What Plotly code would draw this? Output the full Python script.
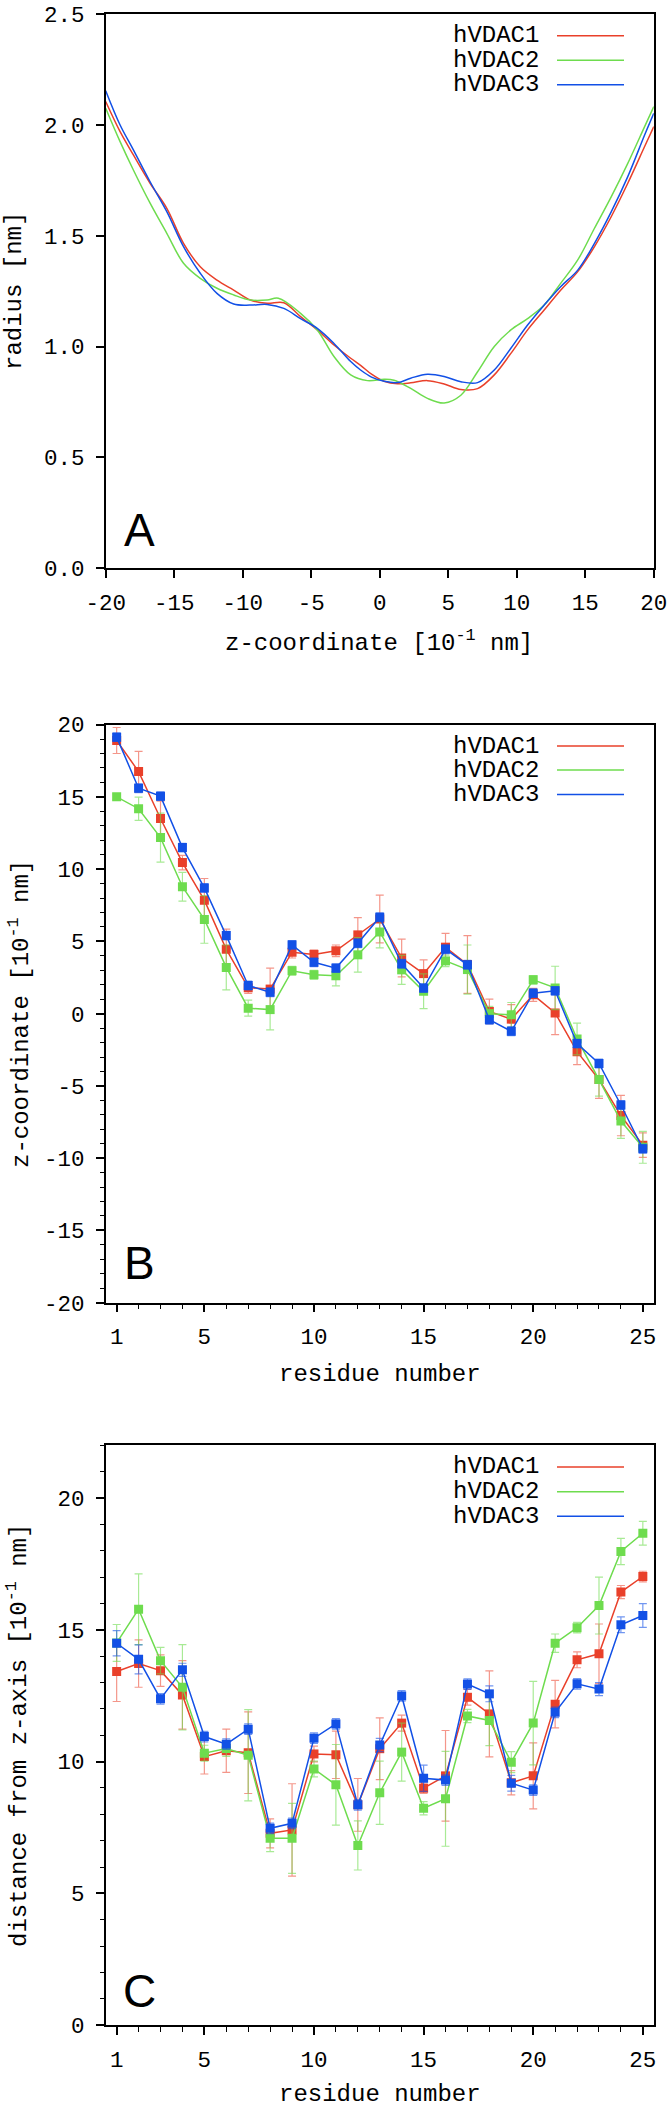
import plotly.graph_objects as go

W, H = 671, 2109

# ---------------- Panel A: pore radius profiles ----------------
zA_1 = [-20, -18.95, -17.98, -16.76, -15.54, -14.32, -13.1, -11.88, -10.66, -9.44, -8.22, -7.0,
        -5.78, -4.56, -3.34, -2.12, -1.4, -0.6, 0.32, 1.3, 2.26, 3.48, 4.7, 5.92, 7.14, 8.36,
        9.57, 10.79, 12.0, 13.2, 14.45, 15.67, 16.9, 18.1, 19.33, 20]
rA_1 = [2.106, 1.970, 1.865, 1.737, 1.624, 1.466, 1.360, 1.300, 1.255, 1.210, 1.195, 1.198,
        1.135, 1.075, 1.007, 0.947, 0.915, 0.875, 0.843, 0.832, 0.836, 0.846, 0.831, 0.806, 0.810, 0.872,
        0.969, 1.075, 1.165, 1.254, 1.338, 1.451, 1.587, 1.737, 1.903, 1.993]

zA_2 = [-20, -18.95, -17.98, -16.76, -15.54, -14.32, -13.1, -11.88, -10.66, -9.44, -8.22, -7.4,
        -5.78, -4.56, -3.34, -2.12, -0.9, 0.32, 1.04, 2.26, 3.48, 4.7, 5.92, 7.14, 8.36,
        9.57, 10.79, 12.0, 13.2, 14.45, 15.67, 16.9, 18.1, 19.33, 20]
rA_2 = [2.076, 1.925, 1.797, 1.647, 1.511, 1.376, 1.308, 1.263, 1.233, 1.210, 1.210, 1.218,
        1.150, 1.075, 0.955, 0.872, 0.846, 0.852, 0.848, 0.811, 0.766, 0.745, 0.780, 0.886, 1.000,
        1.075, 1.126, 1.187, 1.285, 1.391, 1.534, 1.677, 1.827, 1.993, 2.083]

zA_3 = [-20, -18.95, -17.98, -16.76, -15.54, -14.32, -13.1, -11.88, -10.66, -9.44, -8.22, -7.0,
        -5.78, -4.56, -3.34, -2.12, -1.4, -0.6, 0.32, 1.3, 2.26, 3.48, 4.7, 5.92, 7.14, 8.36,
        9.57, 10.79, 12.0, 13.2, 14.45, 15.67, 16.9, 18.1, 19.33, 20]
rA_3 = [2.155, 2.000, 1.888, 1.744, 1.609, 1.451, 1.331, 1.240, 1.192, 1.187, 1.190, 1.172,
        1.126, 1.082, 1.014, 0.932, 0.894, 0.862, 0.843, 0.837, 0.857, 0.875, 0.865, 0.841, 0.837, 0.894,
        0.992, 1.097, 1.187, 1.270, 1.345, 1.466, 1.609, 1.767, 1.955, 2.053]

# ---------------- Panels B, C: per-residue values ----------------
residues = list(range(1, 26))

B_1 = [18.9, 16.75, 13.5, 10.45, 7.85, 4.45, 1.8, 1.7, 4.25, 4.1, 4.35, 5.45, 6.55, 3.85, 2.77,
       4.6, 3.4, 0.15, -0.38, 1.3, 0.05, -2.63, -4.56, -7.05, -9.1]
B_1_err = [0.9, 1.4, 1.2, 0.5, 1.5, 1.4, 0.4, 1.45, 0.4, 0.3, 0.4, 1.2, 1.65, 1.3, 0.95,
           0.95, 2.0, 0.85, 1.0, 0.45, 1.5, 0.9, 1.3, 1.4, 0.85]
B_2 = [15.0, 14.18, 12.18, 8.78, 6.52, 3.2, 0.38, 0.28, 2.97, 2.69, 2.62, 4.07, 5.65, 3.03, 1.55,
       3.65, 3.05, 0.0, -0.08, 2.34, 1.78, -1.75, -4.56, -7.43, -9.25]
B_2_err = [0.2, 0.8, 1.7, 1.0, 1.65, 1.55, 0.55, 1.4, 0.3, 0.3, 0.7, 1.2, 1.1, 1.0, 1.2,
           0.4, 1.7, 0.5, 0.85, 0.3, 1.5, 1.1, 1.15, 1.2, 1.1]
B_3 = [19.13, 15.6, 15.05, 11.49, 8.7, 5.4, 1.95, 1.48, 4.76, 3.55, 3.15, 4.87, 6.67, 3.45, 1.77,
       4.46, 3.38, -0.42, -1.22, 1.42, 1.58, -2.07, -3.45, -6.32, -9.35]
B_3_err = [0.3, 0.3, 0.3, 0.3, 0.3, 0.3, 0.3, 0.3, 0.3, 0.3, 0.3, 0.3, 0.3, 0.3, 0.3,
           0.3, 0.3, 0.3, 0.3, 0.3, 0.3, 0.3, 0.3, 0.3, 0.3]

C_1 = [13.42, 13.72, 13.45, 12.53, 10.19, 10.41, 10.34, 7.28, 7.41, 10.29, 10.26, 8.36, 10.49,
       11.46, 8.99, 9.46, 12.44, 11.81, 9.2, 9.46, 12.18, 13.86, 14.09, 16.43, 17.02]
C_1_err = [1.14, 0.9, 0.6, 1.3, 0.66, 0.82, 1.55, 0.55, 1.75, 0.3, 0.9, 1.0, 1.17,
           0.3, 0.2, 1.72, 0.3, 1.63, 0.46, 1.25, 0.9, 0.3, 1.13, 0.25, 0.2]
C_2 = [14.5, 15.78, 13.83, 12.82, 10.32, 10.5, 10.24, 7.09, 7.09, 9.72, 9.12, 6.82, 8.82,
       10.36, 8.23, 8.59, 11.73, 11.56, 9.98, 11.46, 14.49, 15.08, 15.92, 17.97, 18.66]
C_2_err = [0.7, 1.34, 0.5, 1.62, 0.3, 0.3, 1.73, 0.5, 1.33, 0.3, 1.53, 0.93, 1.2,
           1.1, 0.25, 1.8, 0.25, 0.95, 0.4, 1.58, 0.35, 0.2, 1.08, 0.5, 0.45]
C_3 = [14.49, 13.88, 12.38, 13.48, 10.95, 10.66, 11.23, 7.47, 7.66, 10.89, 11.43, 8.36, 10.63,
       12.49, 9.37, 9.3, 12.94, 12.57, 9.18, 8.92, 11.87, 12.95, 12.75, 15.19, 15.54]
C_3_err = [0.48, 0.55, 0.2, 0.25, 0.2, 0.2, 0.2, 0.2, 0.2, 0.2, 0.2, 0.2, 0.25,
           0.2, 0.5, 0.2, 0.2, 0.3, 0.3, 0.2, 0.2, 0.2, 0.25, 0.3, 0.45]

names = ["hVDAC1", "hVDAC2", "hVDAC3"]
colors = ["#E9402A", "#6EDC4E", "#1250E6"]
err_colors = ["rgba(236,80,60,0.6)", "rgba(110,220,78,0.6)", "rgba(18,80,230,0.6)"]

# tick labels
A_xticks = [-20, -15, -10, -5, 0, 5, 10, 15, 20]
A_xtext = ["-20", "-15", "-10", "-5", "0", "5", "10", "15", "20"]
A_yticks = [0, 0.5, 1.0, 1.5, 2.0, 2.5]
A_ytext = ["0.0", "0.5", "1.0", "1.5", "2.0", "2.5"]
res_ticks = [1, 5, 10, 15, 20, 25]
res_text = ["1", "5", "10", "15", "20", "25"]
B_yticks = [-20, -15, -10, -5, 0, 5, 10, 15, 20]
B_ytext = ["-20", "-15", "-10", "-5", "0", "5", "10", "15", "20"]
C_yticks = [0, 5, 10, 15, 20]
C_ytext = ["0", "5", "10", "15", "20"]

MONO = "Liberation Mono, Courier New, monospace"
SANS = "Liberation Sans, Arial, sans-serif"

fig = go.Figure()

# Panel A lines
for z, r, n, c in [(zA_1, rA_1, names[0], colors[0]),
                   (zA_2, rA_2, names[1], colors[1]),
                   (zA_3, rA_3, names[2], colors[2])]:
    fig.add_trace(go.Scatter(x=z, y=r, mode="lines", name=n, xaxis="x", yaxis="y",
                             line=dict(color=c, width=1.5, shape="spline", smoothing=1.0),
                             showlegend=False))

# Panels B, C
for ax, data in [("2", [(B_1, B_1_err), (B_2, B_2_err), (B_3, B_3_err)]),
                 ("3", [(C_1, C_1_err), (C_2, C_2_err), (C_3, C_3_err)])]:
    for i, (vals, errs) in enumerate(data):
        fig.add_trace(go.Scatter(
            x=residues, y=vals, mode="lines+markers", name=names[i],
            xaxis="x" + ax, yaxis="y" + ax, showlegend=False,
            line=dict(color=colors[i], width=1.5),
            marker=dict(symbol="square", size=9, color=colors[i], line=dict(width=0)),
            error_y=dict(type="data", array=errs, visible=True, color=err_colors[i],
                         thickness=1.2, width=4)))

def px(x):
    return x / W

def py(y):
    return 1 - y / H

XL, XR = 105.7, 653.8
TICKSIZE = 22.5
TEXTSIZE = 24
XSTAND = 5
YSTAND = 7
common = dict(showline=True, mirror=True, linecolor="black", linewidth=1.5,
              ticks="outside", ticklen=8, tickwidth=1.5, tickcolor="black",
              showgrid=False, zeroline=False,
              tickfont=dict(family=MONO, size=TICKSIZE, color="black"),
              automargin=False)

layout = dict(
    width=W, height=H,
    margin=dict(l=0, r=0, t=0, b=0),
    paper_bgcolor="white", plot_bgcolor="white",
    showlegend=False,
    xaxis=dict(domain=[px(XL), px(XR)], range=[-20, 20], anchor="y",
               tickmode="array", tickvals=A_xticks, ticktext=A_xtext,
               ticklabelstandoff=XSTAND, **common),
    yaxis=dict(domain=[py(568.0), py(14.3)], range=[0, 2.5], anchor="x",
               tickmode="array", tickvals=A_yticks, ticktext=A_ytext,
               ticklabelstandoff=YSTAND, **common),
    xaxis2=dict(domain=[px(XL), px(XR)], range=[0.5, 25.5], anchor="y2",
                tickmode="array", tickvals=res_ticks, ticktext=res_text,
                ticklabelstandoff=XSTAND,
                minor=dict(ticks="outside", ticklen=5, tickwidth=1.2, tickcolor="black",
                           tickmode="array", tickvals=residues, showgrid=False),
                **common),
    yaxis2=dict(domain=[py(1302.7), py(724.6)], range=[-20, 20], anchor="x2",
                tickmode="array", tickvals=B_yticks, ticktext=B_ytext,
                ticklabelstandoff=YSTAND,
                minor=dict(ticks="outside", ticklen=4, tickwidth=1.2, tickcolor="black",
                           dtick=1, showgrid=False),
                **common),
    xaxis3=dict(domain=[px(XL), px(XR)], range=[0.5, 25.5], anchor="y3",
                tickmode="array", tickvals=res_ticks, ticktext=res_text,
                ticklabelstandoff=XSTAND,
                minor=dict(ticks="outside", ticklen=5, tickwidth=1.2, tickcolor="black",
                           tickmode="array", tickvals=residues, showgrid=False),
                **common),
    yaxis3=dict(domain=[py(2025.3), py(1445.2)], range=[0, 22], anchor="x3",
                tickmode="array", tickvals=C_yticks, ticktext=C_ytext,
                ticklabelstandoff=YSTAND,
                minor=dict(ticks="outside", ticklen=4, tickwidth=1.2, tickcolor="black",
                           dtick=1, showgrid=False),
                **common),
)
fig.update_layout(**layout)

annotations = []
shapes = []

def text(x, y, s, size=TEXTSIZE, angle=0, family=MONO, xanchor="center"):
    annotations.append(dict(x=px(x), y=py(y), xref="paper", yref="paper", text=s,
                            showarrow=False, textangle=angle, xanchor=xanchor, yanchor="middle",
                            font=dict(family=family, size=size, color="black")))

# axis titles
text(379, 641.5, "z-coordinate [10<sup>-1</sup> nm]")
text(15, 291, "radius [nm]", angle=-90)
text(380, 1374, "residue number")
text(19, 1014, "z-coordinate [10<sup>-1</sup> nm]", angle=-90)
text(380, 2094, "residue number")
text(17, 1736, "distance from z-axis [10<sup>-1</sup> nm]", angle=-90)

# panel letters
text(139, 530, "A", size=46, family=SANS)
text(139, 1263, "B", size=46, family=SANS)
text(139, 1991, "C", size=46, family=SANS)

# legends (gnuplot style: label then line sample)
for rows in [(35.7, 60.3, 84.8), (746.0, 770.1, 794.6), (1466.9, 1491.8, 1516.2)]:
    for i, yy in enumerate(rows):
        text(541, yy, names[i], xanchor="right")
        shapes.append(dict(type="line", xref="paper", yref="paper",
                           x0=px(557), x1=px(624), y0=py(yy), y1=py(yy),
                           line=dict(color=colors[i], width=1.5)))

fig.update_layout(annotations=annotations, shapes=shapes)
fig.write_html(
    "out.html",
    config={"displayModeBar": False},
    post_script="document.body.style.margin='0';document.body.style.overflow='hidden';"
                "document.documentElement.style.overflow='hidden';",
)
